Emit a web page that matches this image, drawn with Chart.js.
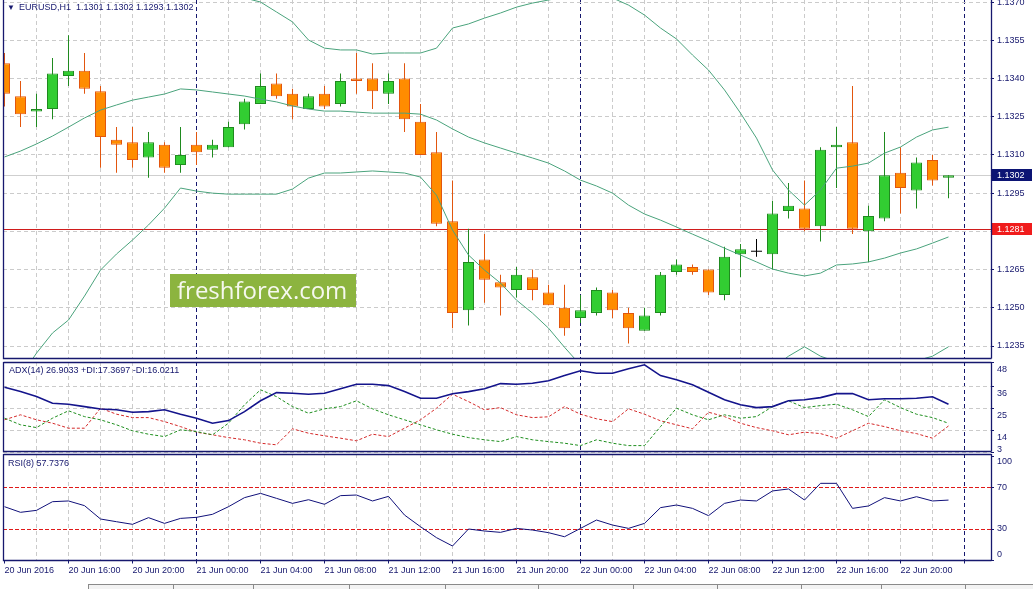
<!DOCTYPE html>
<html>
<head>
<meta charset="utf-8">
<script src="https://cdn.jsdelivr.net/npm/chart.js@4.4.1/dist/chart.umd.min.js"></script>
<style>
html, body { margin: 0; padding: 0; background: #fff; }
body { width: 1033px; height: 589px; position: relative; overflow: hidden; font-family: "Liberation Sans", Arial, sans-serif; }
canvas { position: absolute; left: 0; }
.hdr { position: absolute; font-size: 9px; line-height: 11px; color: #16186e; white-space: pre; }
.tri { font-size: 8px; margin-right: 4px; }
#wm { position: absolute; left: 170px; top: 274px; width: 186px; height: 33px; background: #8cb43f; color: #f6f8ef;
      font-family: "Open Sans", "Liberation Sans", sans-serif; font-size: 24px; line-height: 32px; padding-left: 7px; box-sizing: border-box; }
#tabs { position: absolute; left: 88px; top: 584px; width: 945px; height: 6px; background: #f3f3f3; border-top: 1px solid #8a8a8a; border-left: 1px solid #8a8a8a; }
.sep { position: absolute; top: 584px; width: 1px; height: 6px; background: #8a8a8a; }
</style>
</head>
<body>
<canvas id="main" width="1033" height="360" style="top:0"></canvas>
<canvas id="adx" width="1033" height="94" style="top:360px"></canvas>
<canvas id="rsi" width="1033" height="130" style="top:453px"></canvas>
<div id="wm">freshforex.com</div>
<div class="hdr" id="hMain" style="left:7px;top:2px"></div>
<div class="hdr" id="hAdx" style="left:9px;top:365px"></div>
<div class="hdr" id="hRsi" style="left:8px;top:458px"></div>
<div id="tabs"></div>
<script>
// --- данные (EURUSD H1, 20 Jun 12:00 ... 22 Jun 23:00) ---
const symbol = 'EURUSD,H1';
const firstBarHour = 12;
const tickLabels = ['20 Jun 2016', '20 Jun 16:00', '20 Jun 20:00', '21 Jun 00:00', '21 Jun 04:00', '21 Jun 08:00',
    '21 Jun 12:00', '21 Jun 16:00', '21 Jun 20:00', '22 Jun 00:00', '22 Jun 04:00', '22 Jun 08:00',
    '22 Jun 12:00', '22 Jun 16:00', '22 Jun 20:00'];

const opens = [1.1346, 1.1333, 1.1327, 1.1328, 1.1341, 1.1343, 1.1335, 1.1316, 1.1315, 1.1309,
    1.1314, 1.1306, 1.1314, 1.1312, 1.1313, 1.1322, 1.1330, 1.1338, 1.1334, 1.1328,
    1.1334, 1.1330, 1.1340, 1.1340, 1.1334, 1.1340, 1.1323, 1.1311, 1.1284, 1.1249,
    1.1269, 1.1260, 1.1257, 1.1262, 1.1256, 1.1250, 1.1246, 1.1248, 1.1256, 1.1248,
    1.1241, 1.1248, 1.1264, 1.1266, 1.1265, 1.1255, 1.1271, 1.1272, 1.1271, 1.1288,
    1.1289, 1.1282, 1.1313, 1.1315, 1.1280, 1.1285, 1.1303, 1.1296, 1.1308, 1.1301];
const highs = [1.1350, 1.1339, 1.1334, 1.1348, 1.1357, 1.1350, 1.1337, 1.1321, 1.1321, 1.1319,
    1.1315, 1.1321, 1.1319, 1.1316, 1.1323, 1.1332, 1.1342, 1.1342, 1.1336, 1.1334,
    1.1337, 1.1342, 1.1350, 1.1346, 1.1342, 1.1346, 1.1330, 1.1319, 1.1300, 1.1281,
    1.1279, 1.1263, 1.1266, 1.1265, 1.1259, 1.1259, 1.1255, 1.1258, 1.1257, 1.1250,
    1.1250, 1.1264, 1.1269, 1.1267, 1.1265, 1.1274, 1.1275, 1.1277, 1.1292, 1.1299,
    1.1300, 1.1313, 1.1321, 1.1337, 1.1290, 1.1319, 1.1313, 1.1309, 1.1310, 1.1302];
const lows = [1.1329, 1.1321, 1.1321, 1.1324, 1.1337, 1.1334, 1.1305, 1.1303, 1.1305, 1.1301,
    1.1303, 1.1303, 1.1306, 1.1309, 1.1313, 1.1320, 1.1330, 1.1332, 1.1324, 1.1328,
    1.1328, 1.1329, 1.1334, 1.1328, 1.1330, 1.1319, 1.1310, 1.1282, 1.1242, 1.1243,
    1.1252, 1.1247, 1.1254, 1.1253, 1.1251, 1.1239, 1.1244, 1.1247, 1.1246, 1.1236,
    1.1241, 1.1247, 1.1263, 1.1263, 1.1255, 1.1253, 1.1262, 1.1270, 1.1265, 1.1285,
    1.1280, 1.1276, 1.1297, 1.1279, 1.1268, 1.1284, 1.1287, 1.1289, 1.1298, 1.1293];
const closes = [1.1334, 1.1326, 1.1328, 1.1342, 1.1343, 1.1336, 1.1317, 1.1314, 1.1308, 1.1315,
    1.1305, 1.1310, 1.1311, 1.1314, 1.1321, 1.1331, 1.1337, 1.1333, 1.1329, 1.1333,
    1.1329, 1.1339, 1.1339, 1.1335, 1.1339, 1.1324, 1.1310, 1.1283, 1.1248, 1.1268,
    1.1261, 1.1258, 1.1263, 1.1257, 1.1251, 1.1242, 1.1249, 1.1257, 1.1249, 1.1242,
    1.1247, 1.1263, 1.1267, 1.1264, 1.1256, 1.1270, 1.1273, 1.1272, 1.1287, 1.1290,
    1.1281, 1.1312, 1.1314, 1.1281, 1.1286, 1.1302, 1.1297, 1.1307, 1.1300, 1.1302];

// Bollinger Bands
const bbUpper = [1.14034, 1.14000, 1.13964, 1.13947, 1.13966, 1.13944, 1.13904, 1.13881, 1.13864, 1.13829,
    1.13787, 1.13748, 1.13752, 1.13744, 1.13732, 1.13716, 1.13700, 1.13661, 1.13622, 1.13551,
    1.13519, 1.13512, 1.13512, 1.13496, 1.13500, 1.13500, 1.13500, 1.13519, 1.13598, 1.13614,
    1.13637, 1.13657, 1.13680, 1.13696, 1.13708, 1.13720, 1.13727, 1.13727, 1.13716, 1.13688,
    1.13649, 1.13598, 1.13555, 1.13492, 1.13433, 1.13355, 1.13264, 1.13166, 1.13041, 1.12962,
    1.12903, 1.12962, 1.13048, 1.13056, 1.13068, 1.13107, 1.13131, 1.13170, 1.13198, 1.13209];
const bbMiddle = [1.13092, 1.13115, 1.13143, 1.13174, 1.13209, 1.13245, 1.13276, 1.13296, 1.13315, 1.13327,
    1.13339, 1.13359, 1.13355, 1.13347, 1.13339, 1.13331, 1.13319, 1.13308, 1.13292, 1.13280,
    1.13272, 1.13272, 1.13268, 1.13264, 1.13264, 1.13264, 1.13260, 1.13237, 1.13202, 1.13170,
    1.13147, 1.13127, 1.13107, 1.13088, 1.13068, 1.13037, 1.13001, 1.12978, 1.12950, 1.12903,
    1.12868, 1.12844, 1.12817, 1.12789, 1.12762, 1.12734, 1.12707, 1.12680, 1.12652, 1.12636,
    1.12625, 1.12636, 1.12668, 1.12672, 1.12680, 1.12695, 1.12715, 1.12731, 1.12754, 1.12778];
const bbLower = [1.12150, 1.12230, 1.12322, 1.12401, 1.12452, 1.12546, 1.12648, 1.12711, 1.12766, 1.12825,
    1.12891, 1.12970, 1.12958, 1.12950, 1.12946, 1.12946, 1.12946, 1.12946, 1.12966, 1.13009,
    1.13029, 1.13029, 1.13033, 1.13037, 1.13033, 1.13029, 1.13013, 1.12942, 1.12805, 1.12707,
    1.12648, 1.12597, 1.12530, 1.12479, 1.12420, 1.12345, 1.12275, 1.12229, 1.12184, 1.12118,
    1.12087, 1.12090, 1.12079, 1.12086, 1.12091, 1.12113, 1.12150, 1.12194, 1.12263, 1.12310,
    1.12347, 1.12310, 1.12288, 1.12288, 1.12292, 1.12283, 1.12299, 1.12292, 1.12310, 1.12347];

// ADX(14)
const adxMain = [35.4, 33.2, 30.7, 27.4, 26.9, 25.7, 24.5, 24.1, 22.9, 23.2,
    24.1, 21.9, 19.9, 17.4, 18.7, 23.2, 28.6, 32.7, 32.4, 31.9,
    32.4, 34.6, 36.9, 36.9, 36.2, 33.2, 29.9, 29.9, 32.1, 33.2,
    34.6, 37.2, 36.9, 37.4, 38.6, 41.2, 43.6, 42.4, 42.4, 44.6,
    46.6, 41.2, 39.1, 36.6, 32.9, 29.1, 26.6, 25.2, 25.7, 28.6,
    29.1, 30.2, 32.2, 32.2, 29.1, 29.6, 29.6, 29.9, 30.6, 26.9033];
const plusDI = [19.9, 16.6, 15.2, 19.9, 23.6, 20.7, 19.1, 16.6, 13.6, 11.9,
    10.7, 14.1, 13.2, 11.6, 17.4, 26.6, 34.1, 30.7, 25.7, 22.4,
    24.6, 25.7, 28.6, 24.6, 21.6, 19.1, 16.6, 14.1, 11.9, 10.2,
    9.1, 8.2, 10.7, 9.1, 8.2, 7.4, 6.2, 9.1, 7.4, 6.2,
    6.2, 15.7, 24.9, 21.6, 19.1, 21.6, 19.9, 20.7, 25.7, 28.6,
    25.2, 26.2, 26.9, 24.1, 20.7, 29.1, 25.2, 21.9, 20.2, 17.3697];
const minusDI = [19.1, 21.6, 19.1, 17.4, 14.9, 14.9, 24.9, 21.9, 20.2, 20.2,
    18.2, 15.7, 12.9, 11.6, 10.2, 9.1, 7.4, 6.6, 14.6, 12.4,
    11.1, 9.9, 8.6, 11.9, 10.7, 14.9, 19.1, 24.9, 31.9, 28.2,
    24.1, 25.2, 21.6, 20.2, 20.6, 25.7, 21.9, 19.6, 18.2, 24.6,
    21.9, 18.6, 16.6, 14.6, 22.9, 20.7, 17.4, 15.2, 13.6, 11.6,
    12.9, 12.2, 9.9, 13.6, 17.4, 15.7, 13.6, 12.2, 9.9, 16.0211];

// RSI(8)
const rsi = [51.4, 46.0, 47.9, 56.2, 56.9, 52.4, 39.6, 37.0, 34.5, 40.9,
    35.4, 40.2, 41.2, 44.1, 51.4, 60.1, 64.2, 59.4, 54.6, 58.1,
    53.7, 62.0, 62.6, 56.9, 61.3, 43.4, 32.2, 21.7, 13.7, 30.0,
    28.1, 26.8, 30.6, 29.0, 26.5, 22.6, 30.6, 38.6, 33.8, 30.6,
    35.4, 50.5, 53.0, 49.8, 42.8, 54.6, 57.8, 56.9, 66.5, 68.4,
    57.8, 73.8, 73.8, 49.8, 52.1, 60.1, 56.9, 61.0, 56.9, 57.7376];

const priceTicks = [1.1235, 1.1250, 1.1265, 1.1280, 1.1295, 1.1310, 1.1325, 1.1340, 1.1355, 1.1370];
const adxTicks = [3, 14, 25, 36, 48];
const rsiTicks = [0, 30, 70, 100];
const rsiLevels = [30, 70];
const bidPrice = 1.1302;
const levelPrice = 1.1281;

// --- оформление ---
const NAVY = '#16186e';
const GRID = '#cbcbcb';
const BB = '#4aa37c';
const LEVEL_RED = '#e01a1a';
const FONT = { family: '"Liberation Sans", Arial, sans-serif', size: 9 };
const CLEAR = 'rgba(0,0,0,0)';
const fill = { bull: '#32cd32', bear: '#ff8c00', doji: '#000000' };
const edge = { bull: '#1f8a1f', bear: '#e2560e', doji: '#000000' };

// окно по X: 16 px на бар, бар 0 у самого левого края
const xMin = -0.09375, xMax = 61.65625;
const priceMin = 1.12299, priceMax = 1.13708;

const last = opens.length - 1;
document.getElementById('hMain').innerHTML = '<span class="tri">&#9660;</span>' + symbol + '  ' +
    [opens[last], highs[last], lows[last], closes[last]].map(v => v.toFixed(4)).join(' ');
document.getElementById('hAdx').textContent = 'ADX(14) ' + adxMain[last].toFixed(4) +
    ' +DI:' + plusDI[last].toFixed(4) + ' -DI:' + minusDI[last].toFixed(4);
document.getElementById('hRsi').textContent = 'RSI(8) ' + rsi[last].toFixed(4);

// разделители вкладок внизу
[173, 253, 349, 445, 538, 633, 717, 801, 881, 965].forEach(x => {
    const d = document.createElement('div');
    d.className = 'sep'; d.style.left = x + 'px';
    document.body.appendChild(d);
});

const kind = closes.map((c, i) => c > opens[i] ? 'bull' : (c < opens[i] ? 'bear' : 'doji'));
const gridSteps = [];
for (let i = 0; i <= 60; i += 2) gridSteps.push(i);

function pts(arr) {
    return arr.map((v, i) => ({ x: i, y: v }));
}

function xScale(withLabels) {
    return {
        type: 'linear', min: xMin, max: xMax, offset: false,
        afterBuildTicks: s => { s.ticks = gridSteps.map(v => ({ value: v })); },
        ticks: {
            display: withLabels, autoSkip: false, maxRotation: 0, minRotation: 0, align: 'start',
            padding: 2, color: NAVY, font: FONT,
            callback: v => (v % 4 === 0 && tickLabels[v / 4]) || ''
        },
        grid: {
            offset: false, lineWidth: 1, drawTicks: withLabels, tickLength: 3, tickBorderDash: [],
            color: c => {
                const v = c.tick ? c.tick.value : null;
                if (v === 0) return CLEAR;
                return (v + firstBarHour) % 24 === 0 ? NAVY : GRID;
            },
            tickColor: c => (c.tick && c.tick.value % 4 === 0) ? NAVY : CLEAR
        },
        border: { display: false, dash: [4, 3] },
        afterFit: s => { s.height = withLabels ? 22.5 : 0; s.paddingLeft = 0; s.paddingRight = 0; }
    };
}

function yScale(min, max, ticks, extra) {
    const base = {
        position: 'right', min: min, max: max,
        afterBuildTicks: s => { s.ticks = ticks.map(v => ({ value: v })); },
        ticks: { autoSkip: false, padding: 3, color: NAVY, font: FONT },
        grid: { color: GRID, lineWidth: 1, tickLength: 3, tickColor: NAVY, tickBorderDash: [] },
        border: { display: false, dash: [4, 3] },
        afterFit: s => { s.width = 42; s.paddingTop = 0; s.paddingBottom = 0; }
    };
    Object.keys(extra).forEach(k => { base[k] = Object.assign({}, base[k], extra[k]); });
    return base;
}

// рамки панелей
const framePlugin = {
    id: 'frame',
    afterDraw(chart, args, opts) {
        const { ctx, chartArea: a } = chart;
        const l = Math.round(a.left) + 0.5, r = Math.round(a.right) + 0.5;
        const t = Math.round(a.top) + 0.5, b = Math.round(a.bottom) - 0.5;
        ctx.save();
        ctx.strokeStyle = NAVY;
        ctx.lineWidth = 1.3;
        ctx.beginPath();
        if (opts.top) { ctx.moveTo(l, t); ctx.lineTo(r, t); }
        ctx.moveTo(l, a.top); ctx.lineTo(l, b);
        ctx.lineTo(r, b);
        ctx.moveTo(r, a.top); ctx.lineTo(r, b);
        ctx.stroke();
        ctx.restore();
    }
};

// уровни RSI 30 / 70
const rsiLevelLines = {
    id: 'rsiLevelLines',
    beforeDatasetsDraw(chart) {
        const { ctx, chartArea: a, scales: { y } } = chart;
        ctx.save();
        ctx.strokeStyle = LEVEL_RED;
        ctx.lineWidth = 1;
        ctx.setLineDash([4, 2]);
        rsiLevels.forEach(v => {
            const py = Math.round(y.getPixelForValue(v)) + 0.5;
            ctx.beginPath(); ctx.moveTo(a.left, py); ctx.lineTo(a.right, py); ctx.stroke();
        });
        ctx.restore();
    }
};

// линия Bid, горизонтальный уровень и метки цены на шкале
const priceMarks = {
    id: 'priceMarks',
    beforeDatasetsDraw(chart) {
        const { ctx, chartArea: a, scales: { y } } = chart;
        ctx.save();
        [[bidPrice, '#cfcfcf'], [levelPrice, '#d01c1c']].forEach(([v, c]) => {
            const py = Math.round(y.getPixelForValue(v)) + 0.5;
            ctx.strokeStyle = c;
            ctx.lineWidth = 1;
            ctx.beginPath(); ctx.moveTo(a.left, py); ctx.lineTo(a.right, py); ctx.stroke();
        });
        ctx.restore();
    },
    afterDraw(chart) {
        const { ctx, chartArea: a, scales: { y } } = chart;
        ctx.save();
        [[bidPrice, '#0c1474'], [levelPrice, '#f01c1c']].forEach(([v, c]) => {
            const py = Math.round(y.getPixelForValue(v));
            ctx.fillStyle = c;
            ctx.fillRect(a.right + 1, py - 6, 40, 12);
            ctx.fillStyle = '#ffffff';
            ctx.font = '9px "Liberation Sans", Arial, sans-serif';
            ctx.textBaseline = 'middle';
            ctx.textAlign = 'left';
            ctx.fillText(v.toFixed(4), a.right + 6, py + 0.5);
        });
        ctx.restore();
    }
};

const common = {
    responsive: false,
    animation: false,
    events: [],
    plugins: { legend: { display: false }, tooltip: { enabled: false } }
};

// --- основной график: свечи + Bollinger ---
new Chart(document.getElementById('main'), {
    type: 'bar',
    data: {
        datasets: [
            { type: 'line', data: pts(bbUpper), borderColor: BB, borderWidth: 1, pointRadius: 0, order: -1 },
            { type: 'line', data: pts(bbMiddle), borderColor: BB, borderWidth: 1, pointRadius: 0, order: -1 },
            { type: 'line', data: pts(bbLower), borderColor: BB, borderWidth: 1, pointRadius: 0, order: -1 },
            {
                data: opens.map((o, i) => ({ x: i, y: [o, closes[i]] })),
                backgroundColor: kind.map(k => fill[k]),
                borderColor: kind.map(k => edge[k]),
                borderWidth: kind.map(k => k === 'doji' ? 0 : 1),
                borderSkipped: false, barThickness: 11, minBarLength: 1,
                grouped: false, inflateAmount: 0, order: 0
            },
            {
                data: lows.map((l, i) => ({ x: i, y: [l, highs[i]] })),
                backgroundColor: kind.map(k => edge[k]),
                borderWidth: 0, barThickness: 1, grouped: false, inflateAmount: 0, order: 1
            }
        ]
    },
    options: Object.assign({}, common, {
        layout: { padding: { left: 3, right: 0, top: 0, bottom: 1 } },
        scales: {
            x: xScale(false),
            y: yScale(priceMin, priceMax, priceTicks, { ticks: { callback: v => v.toFixed(4) } })
        },
        plugins: Object.assign({}, common.plugins, { frame: { top: false } })
    }),
    plugins: [priceMarks, framePlugin]
});

// --- ADX(14) ---
new Chart(document.getElementById('adx'), {
    type: 'line',
    data: {
        datasets: [
            { data: pts(adxMain), borderColor: '#14148c', borderWidth: 1.6, pointRadius: 0, order: 0 },
            { data: pts(plusDI), borderColor: '#1f8f1f', borderWidth: 1, borderDash: [3, 2], pointRadius: 0, order: 1 },
            { data: pts(minusDI), borderColor: '#d42a2a', borderWidth: 1, borderDash: [3, 2], pointRadius: 0, order: 2 }
        ]
    },
    options: Object.assign({}, common, {
        layout: { padding: { left: 3, right: 0, top: 2, bottom: 2 } },
        scales: {
            x: xScale(false),
            y: yScale(3, 48, adxTicks, {
                ticks: { labelOffset: 8, callback: v => v === adxTicks[0] ? [String(v), '', ''] : String(v) }
            })
        },
        plugins: Object.assign({}, common.plugins, { frame: { top: true } })
    }),
    plugins: [framePlugin]
});

// --- RSI(8) ---
new Chart(document.getElementById('rsi'), {
    type: 'line',
    data: {
        datasets: [
            { data: pts(rsi), borderColor: '#10107a', borderWidth: 1, pointRadius: 0 }
        ]
    },
    options: Object.assign({}, common, {
        layout: { padding: { left: 3, right: 0, top: 1, bottom: 0 } },
        scales: {
            x: xScale(true),
            y: yScale(-0.2, 101.94, rsiTicks, {
                ticks: {
                    callback: v => v === rsiTicks[rsiTicks.length - 1] ? ['', String(v)]
                        : (v === rsiTicks[0] ? [String(v), ''] : String(v))
                },
                grid: { color: CLEAR }
            })
        },
        plugins: Object.assign({}, common.plugins, { frame: { top: true } })
    }),
    plugins: [rsiLevelLines, framePlugin]
});
</script>
</body>
</html>
